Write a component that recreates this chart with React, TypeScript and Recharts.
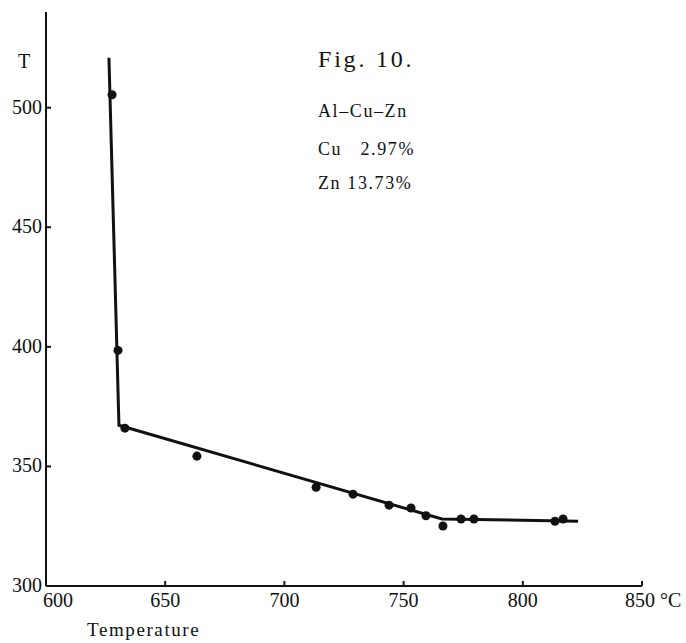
import React from "react";
import { ComposedChart, Line, Scatter, XAxis, YAxis } from "recharts";

// Cooling curve, Al-Cu-Zn (Cu 2.97%, Zn 13.73%)
const tempTicks = [600, 650, 700, 750, 800, 850];
const tTicks = [300, 350, 400, 450, 500];

// measured points: temperature (x) vs T (y)
const obsTemp = [627.7, 630.2, 633.1, 663.3, 713.3, 728.8, 743.9, 753.1, 759.4, 766.5, 774.1, 779.5, 813.5, 816.9];
const obsT = [505.4, 398.5, 366.0, 354.3, 341.3, 338.4, 333.8, 332.6, 329.4, 325.1, 328.0, 328.0, 327.1, 328.0];

// drawn curve through the points
const curveTemp = [626.4, 630.6, 766.1, 823.2];
const curveT = [520.9, 367.2, 328.0, 327.1];

const points = obsTemp.map((x, i) => ({ x, y: obsT[i] }));
const curve = curveTemp.map((x, i) => ({ x, y: curveT[i] }));

const FONT = '"Liberation Serif", "Times New Roman", serif';
const INK = "#111";

function YTick(props: any) {
  const { x, y, payload } = props;
  return (
    <g>
      <line x1={x} y1={y} x2={x + 5} y2={y} stroke={INK} strokeWidth={2} />
      <text x={x - 4} y={y} dy={6} textAnchor="end" fontSize={20} fontFamily={FONT} fill={INK}>
        {payload.value}
      </text>
    </g>
  );
}

function XTick(props: any) {
  const { x, y, payload } = props;
  const v = payload.value;
  return (
    <g>
      <line x1={x} y1={y} x2={x} y2={y - 5} stroke={INK} strokeWidth={2} />
      {v === 850 ? (
        <text x={x - 17} y={y + 21} textAnchor="start" fontSize={20} fontFamily={FONT} fill={INK}>
          {v} °C
        </text>
      ) : (
        <text x={x + (v === 600 ? 12 : 0)} y={y + 21} textAnchor="middle" fontSize={20} fontFamily={FONT} fill={INK}>
          {v}
        </text>
      )}
    </g>
  );
}

export default function App() {
  return (
    <div style={{ position: "absolute", left: 0, top: 0, width: 686, height: 643, background: "#fff" }}>
      <ComposedChart width={686} height={643} margin={{ top: 12, right: 44, bottom: 0, left: 0 }}>
        <XAxis
          type="number"
          dataKey="x"
          domain={[600, 850]}
          ticks={tempTicks}
          height={57}
          tickSize={0}
          tickMargin={0}
          tickLine={false}
          axisLine={{ stroke: INK, strokeWidth: 2 }}
          tick={<XTick />}
          allowDataOverflow
        />
        <YAxis
          type="number"
          dataKey="y"
          domain={[300, 540]}
          ticks={tTicks}
          width={46}
          tickSize={0}
          tickMargin={0}
          tickLine={false}
          axisLine={{ stroke: INK, strokeWidth: 2 }}
          tick={<YTick />}
          allowDataOverflow
        />
        <Line
          data={curve}
          dataKey="y"
          type="linear"
          stroke={INK}
          strokeWidth={3}
          dot={false}
          activeDot={false}
          isAnimationActive={false}
        />
        <Scatter data={points} dataKey="y" fill={INK} shape="circle" isAnimationActive={false} />
      </ComposedChart>
      <svg width={686} height={643} style={{ position: "absolute", left: 0, top: 0, pointerEvents: "none" }}>
        <text x={18} y={68} fontSize={20} fontFamily={FONT} fill={INK}>T</text>
        <text x={87} y={636} fontSize={19} letterSpacing={1.6} fontFamily={FONT} fill={INK}>Temperature</text>
        <text x={318} y={67} fontSize={24} letterSpacing={2.8} fontFamily={FONT} fill={INK}>Fig. 10.</text>
        <text x={318} y={117} fontSize={18} letterSpacing={1.6} fontFamily={FONT} fill={INK}>Al–Cu–Zn</text>
        <text x={318} y={155} fontSize={18} letterSpacing={1.6} fontFamily={FONT} fill={INK} style={{ whiteSpace: "pre" }}>Cu   2.97%</text>
        <text x={318} y={189} fontSize={18} letterSpacing={1.6} fontFamily={FONT} fill={INK}>Zn 13.73%</text>
      </svg>
    </div>
  );
}
